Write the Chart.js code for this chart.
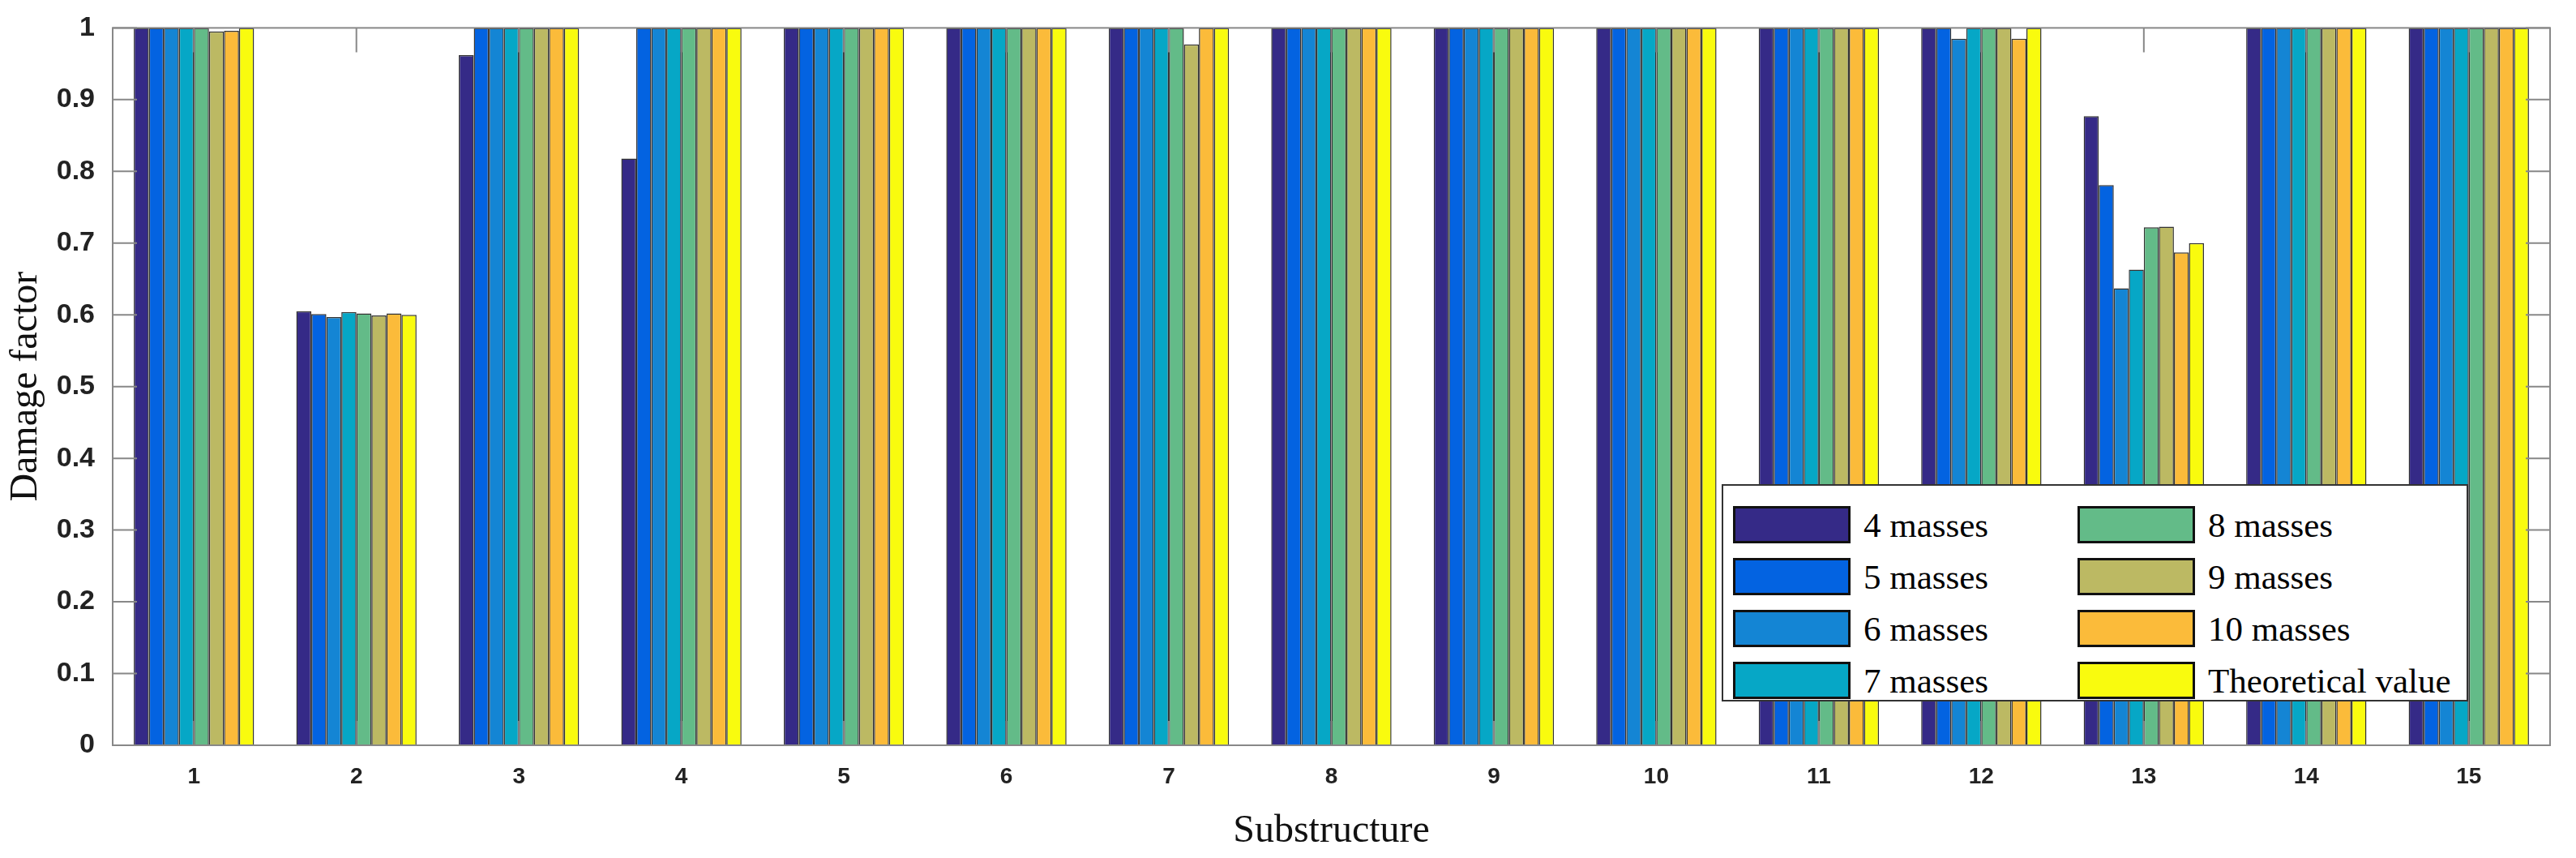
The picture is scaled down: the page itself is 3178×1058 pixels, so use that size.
<!DOCTYPE html>
<html>
<head>
<meta charset="utf-8">
<script src="https://cdn.jsdelivr.net/npm/chart.js@4/dist/chart.umd.min.js"></script>
<style>
  body { margin: 0; background: #fff; }
  #wrap { position: relative; width: 3178px; height: 1058px; }
  #legend {
    position: absolute; left: 2124px; top: 597px; width: 921px; height: 268px;
    background: #fff; border: 2px solid #333; box-sizing: border-box;
    font-family: "Liberation Serif", serif; font-size: 43px; color: #000;
    display: grid; grid-template-columns: 425px 490px; grid-template-rows: repeat(4, 60px);
    padding: 18px 0 0 12px; row-gap: 4px;
  }
  .item { display: flex; align-items: center; }
  .sw { width: 145px; height: 46px; border: 3px solid #111; box-sizing: border-box; margin-right: 16px; }
</style>
</head>
<body>
<div id="wrap">
  <canvas id="c" width="3178" height="1058"></canvas>
  <div id="legend"></div>
</div>
<script>
const categories = ["1","2","3","4","5","6","7","8","9","10","11","12","13","14","15"];
const seriesNames = ["4 masses","5 masses","6 masses","7 masses","8 masses","9 masses","10 masses","Theoretical value"];
const seriesColors = ["#352a87","#0363e1","#1485d4","#06a7c6","#63bb88","#bcb963","#fbbb3a","#f9fb0e"];
const m4  = [1, 0.605, 0.962, 0.818, 1, 1, 1, 1, 1, 1, 1, 1, 0.877, 1, 1];
const m5  = [1, 0.601, 1, 1, 1, 1, 1, 1, 1, 1, 1, 1, 0.781, 1, 1];
const m6  = [1, 0.597, 1, 1, 1, 1, 1, 1, 1, 1, 1, 0.985, 0.637, 1, 1];
const m7  = [1, 0.604, 1, 1, 1, 1, 1, 1, 1, 1, 1, 1, 0.663, 1, 1];
const m8  = [1, 0.602, 1, 1, 1, 1, 1, 1, 1, 1, 1, 1, 0.722, 1, 1];
const m9  = [0.995, 0.599, 1, 1, 1, 1, 0.977, 1, 1, 1, 1, 1, 0.723, 1, 1];
const m10 = [0.996, 0.602, 1, 1, 1, 1, 1, 1, 1, 1, 1, 0.985, 0.687, 1, 1];
const theory = [1, 0.600, 1, 1, 1, 1, 1, 1, 1, 1, 1, 1, 0.700, 1, 1];
const allSeries = [m4, m5, m6, m7, m8, m9, m10, theory];

// legend as html box inside plot
const legendBox = document.getElementById("legend");
const order = [0, 4, 1, 5, 2, 6, 3, 7];
order.forEach(i => {
  const d = document.createElement("div");
  d.className = "item";
  d.innerHTML = `<span class="sw" style="background:${seriesColors[i]}"></span>${seriesNames[i]}`;
  legendBox.appendChild(d);
});

// inside tick marks and box
const frame = {
  id: "frame",
  afterDraw(chart) {
    const { ctx, chartArea: a, scales } = chart;
    ctx.save();
    ctx.strokeStyle = "#888";
    ctx.lineWidth = 2;
    ctx.strokeRect(a.left, a.top, a.right - a.left, a.bottom - a.top);
    scales.y.ticks.forEach(t => {
      const y = scales.y.getPixelForValue(t.value);
      ctx.beginPath();
      ctx.moveTo(a.left, y); ctx.lineTo(a.left + 30, y);
      ctx.moveTo(a.right, y); ctx.lineTo(a.right - 30, y);
      ctx.stroke();
    });
    categories.forEach((c, i) => {
      const x = scales.x.getPixelForValue(i);
      ctx.beginPath();
      ctx.moveTo(x, a.bottom); ctx.lineTo(x, a.bottom - 30);
      ctx.moveTo(x, a.top); ctx.lineTo(x, a.top + 30);
      ctx.stroke();
    });
    ctx.restore();
  }
};

new Chart(document.getElementById("c"), {
  type: "bar",
  data: {
    labels: categories,
    datasets: allSeries.map((vals, i) => ({
      label: seriesNames[i],
      data: vals,
      backgroundColor: seriesColors[i],
      borderColor: "#333",
      borderWidth: 1.5,
      categoryPercentage: 0.74,
      barPercentage: 1
    }))
  },
  options: {
    responsive: false,
    animation: false,
    devicePixelRatio: 1,
    layout: { padding: { top: 7, right: 32, left: 0, bottom: 0 } },
    plugins: { legend: { display: false }, tooltip: { enabled: false } },
    scales: {
      x: {
        grid: { display: false },
        border: { display: false },
        ticks: { color: "#222", font: { family: "Liberation Sans", size: 28, weight: "bold" }, padding: 14 },
        title: { display: true, text: "Substructure", color: "#111", font: { family: "Liberation Serif", size: 48 }, padding: { top: 14 } },
        afterFit(s) { s.height = 139; }
      },
      y: {
        min: 0, max: 1,
        grid: { display: false },
        border: { display: false },
        ticks: {
          stepSize: 0.1, color: "#222", padding: 14,
          font: { family: "Liberation Sans", size: 34, weight: "bold" },
          callback: v => String(Number(v.toFixed(1)))
        },
        title: { display: true, text: "Damage factor", color: "#111", font: { family: "Liberation Serif", size: 48 } },
        afterFit(s) { s.width = 139; }
      }
    }
  },
  plugins: [frame]
});
</script>
</body>
</html>
